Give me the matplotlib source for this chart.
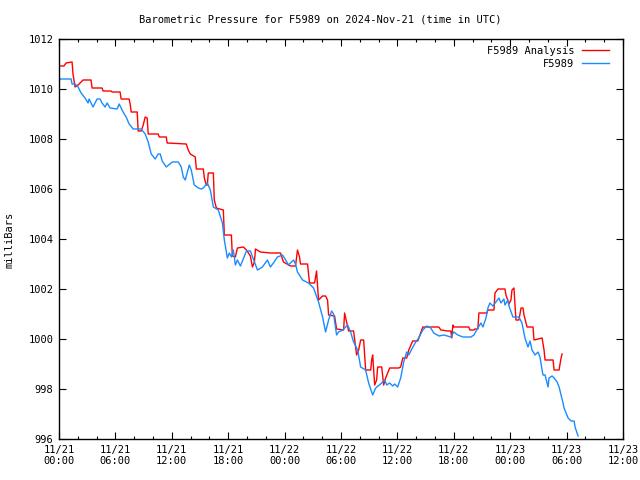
import matplotlib
matplotlib.use("Agg")
import matplotlib.pyplot as plt
import matplotlib.dates as mdates
import pandas as pd
import numpy as np

# hours since 2024-11-21 00:00 UTC, pressure in mb
analysis_hours = [0.0, 0.53, 0.75, 1.39, 1.49, 1.71, 2.03, 2.56, 3.41, 3.52, 4.58, 4.69, 5.54, 5.65,
                  6.50, 6.61, 7.46, 7.57, 7.68, 8.32, 8.42, 8.74, 8.96, 9.17, 9.38, 9.49, 10.55, 10.66,
                  11.41, 11.51, 13.54, 13.75, 13.97, 14.50, 14.61, 15.35, 15.46, 15.67, 15.78, 15.88,
                  16.42, 16.52, 16.74, 17.48, 17.59, 18.34, 18.44, 18.76, 18.98, 19.62, 19.94, 20.36,
                  20.58, 20.79, 20.90, 21.43, 22.49, 23.56, 23.88, 24.63, 25.16, 25.37, 25.59, 25.69,
                  26.44, 26.65, 27.19, 27.40, 27.61, 28.04, 28.36, 28.57, 28.68, 29.32, 29.53, 30.28,
                  30.38, 30.60, 30.81, 31.34, 31.66, 31.88, 32.09, 32.41, 32.52, 32.62, 33.16, 33.26,
                  33.37, 33.58, 33.79, 33.90, 34.33, 34.54, 34.75, 35.18, 36.14, 36.35, 36.57, 36.99,
                  37.21, 37.63, 38.17, 38.70, 40.41, 40.62, 41.36, 41.68, 41.79, 41.90, 42.00, 43.60,
                  43.71, 44.14, 44.24, 44.56, 44.67, 45.52, 45.63, 46.27, 46.38, 46.70, 47.44, 47.55,
                  47.87, 48.08, 48.19, 48.40, 48.51, 48.61, 48.93, 49.15, 49.36, 49.47, 49.79, 50.43,
                  50.53, 51.39, 51.60, 51.71, 52.56, 52.67, 53.20, 53.41, 53.52]
analysis_mb = [1010.92, 1010.92, 1011.04, 1011.08, 1010.60, 1010.08, 1010.16, 1010.36, 1010.36, 1010.04,
               1010.04, 1009.92, 1009.92, 1009.88, 1009.88, 1009.60, 1009.60, 1009.40, 1009.08, 1009.08,
               1008.32, 1008.32, 1008.56, 1008.88, 1008.84, 1008.20, 1008.20, 1008.08, 1008.08, 1007.84,
               1007.80, 1007.56, 1007.40, 1007.28, 1006.80, 1006.80, 1006.44, 1006.16, 1006.16, 1006.64,
               1006.64, 1005.56, 1005.24, 1005.16, 1004.16, 1004.16, 1003.32, 1003.28, 1003.64, 1003.68,
               1003.56, 1003.32, 1002.88, 1003.08, 1003.60, 1003.48, 1003.44, 1003.44, 1003.08, 1002.92,
               1002.92, 1003.56, 1003.28, 1003.00, 1003.00, 1002.24, 1002.24, 1002.72, 1001.56, 1001.72,
               1001.72, 1001.56, 1000.96, 1000.92, 1000.40, 1000.36, 1001.04, 1000.68, 1000.32, 1000.32,
               999.36, 999.56, 999.96, 999.96, 999.36, 998.76, 998.76, 999.16, 999.36, 998.16,
               998.36, 998.88, 998.88, 998.16, 998.44, 998.84, 998.84, 998.88, 999.24, 999.24,
               999.56, 999.92, 999.92, 1000.48, 1000.48, 1000.36, 1000.32, 1000.32, 1000.04, 1000.56,
               1000.48, 1000.48, 1000.36, 1000.36, 1000.40, 1000.40, 1001.04, 1001.04, 1001.16, 1001.16,
               1001.84, 1002.00, 1002.00, 1001.76, 1001.40, 1001.56, 1001.96, 1002.04, 1001.36, 1000.76,
               1000.76, 1001.24, 1001.24, 1000.96, 1000.48, 1000.48, 999.96, 1000.04, 999.56, 999.16,
               999.16, 998.76, 998.76, 999.24, 999.40]

obs_hours = [0.0, 0.11, 1.28, 1.39, 1.71, 2.03, 2.35, 2.77, 3.09, 3.20, 3.41, 3.62, 4.05, 4.37, 4.58,
             4.90, 5.12, 5.44, 6.18, 6.40, 6.82, 7.14, 7.46, 7.89, 8.74, 9.17, 9.49, 9.81, 10.23,
             10.55, 10.77, 10.98, 11.41, 12.05, 12.69, 13.01, 13.22, 13.43, 13.86, 14.07, 14.39,
             14.82, 15.14, 15.35, 15.78, 16.10, 16.42, 16.95, 17.38, 17.59, 17.91, 18.12, 18.34,
             18.55, 18.76, 18.98, 19.30, 19.94, 20.36, 20.68, 21.11, 21.64, 22.17, 22.49, 22.81,
             23.24, 23.77, 23.99, 24.41, 24.95, 25.16, 25.37, 25.91, 26.55, 27.08, 27.61, 28.04,
             28.36, 28.68, 29.00, 29.21, 29.53, 29.74, 30.17, 30.70, 31.02, 31.34, 31.77, 32.09,
             32.62, 32.94, 33.37, 33.69, 34.33, 34.65, 34.86, 35.18, 35.50, 35.71, 36.03, 36.35,
             36.67, 36.99, 37.21, 37.53, 37.95, 38.27, 38.70, 39.13, 39.55, 39.87, 40.41, 40.94,
             41.68, 42.00, 42.43, 42.96, 43.82, 44.14, 44.56, 44.88, 45.10, 45.42, 45.63, 45.84,
             46.16, 46.48, 46.80, 47.01, 47.33, 47.44, 47.76, 47.87, 48.29, 48.93, 49.25, 49.57,
             49.89, 50.11, 50.32, 50.64, 50.96, 51.17, 51.39, 51.49, 51.71, 51.92, 52.03, 52.13,
             52.45, 52.67, 52.99, 53.20, 53.41, 53.62, 53.73, 53.94, 54.16, 54.48, 54.80, 54.90,
             55.12, 55.22]
obs_mb = [1010.28, 1010.40, 1010.40, 1010.20, 1010.20, 1010.08, 1009.84, 1009.64, 1009.44, 1009.60,
          1009.44, 1009.28, 1009.60, 1009.60, 1009.44, 1009.28, 1009.44, 1009.24, 1009.20, 1009.40,
          1009.08, 1008.88, 1008.60, 1008.40, 1008.40, 1008.20, 1007.88, 1007.40, 1007.20, 1007.40,
          1007.40, 1007.12, 1006.88, 1007.08, 1007.08, 1006.88, 1006.48, 1006.36, 1006.96, 1006.76,
          1006.16, 1006.04, 1006.00, 1006.04, 1006.24, 1005.96, 1005.28, 1005.16, 1004.64, 1003.96,
          1003.24, 1003.44, 1003.28, 1003.56, 1002.96, 1003.16, 1002.92, 1003.52, 1003.52, 1003.20,
          1002.76, 1002.88, 1003.16, 1002.88, 1003.04, 1003.28, 1003.36, 1003.24, 1002.96, 1003.16,
          1003.00, 1002.68, 1002.36, 1002.24, 1002.04, 1001.48, 1000.88, 1000.28, 1000.76, 1001.12,
          1001.00, 1000.16, 1000.28, 1000.36, 1000.56, 1000.28, 999.88, 999.56, 998.88, 998.76,
          998.24, 997.76, 998.04, 998.24, 998.36, 998.16, 998.24, 998.12, 998.20, 998.08,
          998.44, 999.08, 999.48, 999.36, 999.60, 999.88, 1000.04, 1000.36, 1000.52, 1000.44,
          1000.24, 1000.12, 1000.16, 1000.08, 1000.28, 1000.16, 1000.08, 1000.08, 1000.16, 1000.44,
          1000.64, 1000.48, 1000.84, 1001.24, 1001.44, 1001.32, 1001.48, 1001.64, 1001.44, 1001.60,
          1001.36, 1001.56, 1001.32, 1000.88, 1000.88, 1000.64, 1000.04, 999.68, 999.92, 999.56,
          999.36, 999.48, 999.28, 998.76, 998.56, 998.56, 998.24, 998.08, 998.44, 998.52,
          998.44, 998.28, 998.08, 997.76, 997.44, 997.24, 997.04, 996.84, 996.72, 996.72,
          996.48, 996.24, 996.12]

title = "Barometric Pressure for F5989 on 2024-Nov-21 (time in UTC)"
series_names = ["F5989 Analysis", "F5989"]
start = pd.Timestamp("2024-11-21 00:00")
end = pd.Timestamp("2024-11-23 12:00")

mono = ["DejaVu Sans Mono"]
fs = 7.5

t_an = start + pd.to_timedelta(analysis_hours, unit="h")
t_ob = start + pd.to_timedelta(obs_hours, unit="h")

fig = plt.figure(figsize=(6.4, 4.8), dpi=100)
ax = fig.add_axes([59 / 640, 1 - 439 / 480, (623 - 59) / 640, (439 - 39) / 480])

ax.plot(t_an, analysis_mb, color="#ff0000", lw=1.0, label=series_names[0])
ax.plot(t_ob, obs_mb, color="#1a8cff", lw=1.0, label=series_names[1])

ax.set_xlim(start, end)
ax.set_ylim(996, 1012)
ax.set_yticks(np.arange(996, 1013, 2))
ax.yaxis.set_major_formatter(matplotlib.ticker.FormatStrFormatter("%d"))
ax.xaxis.set_major_locator(mdates.HourLocator(byhour=range(0, 24, 6)))
ax.xaxis.set_minor_locator(mdates.HourLocator(byhour=range(0, 24, 2)))
ax.xaxis.set_major_formatter(mdates.DateFormatter("%m/%d\n%H:%M"))

ax.tick_params(which="major", direction="in", length=5, width=0.8, top=True, right=True,
               labelsize=fs, pad=4)
ax.tick_params(which="minor", direction="in", length=2.5, width=0.8, top=True, right=True)
for lab in ax.get_xticklabels() + ax.get_yticklabels():
    lab.set_fontfamily(mono)
for sp in ax.spines.values():
    sp.set_linewidth(1.0)

fig.text(0.5, 1 - 20 / 480, title, ha="center", va="center", fontsize=fs, family=mono)
fig.text(10 / 640, 1 - 240 / 480, "milliBars", ha="center", va="center", rotation=90,
         fontsize=fs, family=mono)

leg = ax.legend(loc="upper right", bbox_to_anchor=(1.0, 1.016), frameon=False, markerfirst=False,
                prop={"family": mono, "size": fs},
                handlelength=2.6, handletextpad=0.8, labelspacing=0.25, borderaxespad=0.9)
for t in leg.get_texts():
    t.set_ha("right")

fig.savefig("out.png", dpi=100)
